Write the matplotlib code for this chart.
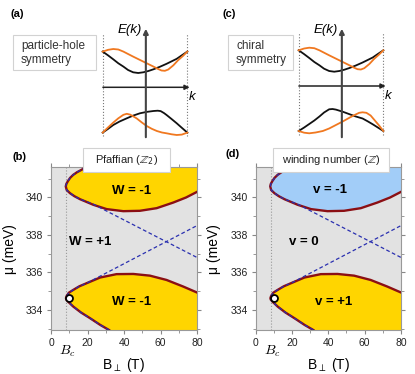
import numpy as np
import matplotlib.pyplot as plt
from matplotlib.patches import Rectangle

plt.rcParams['font.family'] = ['Liberation Sans', 'DejaVu Sans']
plt.rcParams['mathtext.fontset'] = 'dejavusans'

# ---- band sketches (k in units of zone edge, E in arbitrary units) ----
k_up_black = [-1, -0.875, -0.75, -0.63, -0.51, -0.4, -0.28, -0.16, -0.04, 0.08,
              0.2, 0.35, 0.51, 0.63, 0.75, 0.87, 1.0]
E_up_black = [35.7, 32, 28, 24, 20.7, 17.3, 15, 14.3, 15, 16.3,
              18, 20.5, 23.5, 26, 28.5, 32, 35.7]
k_up_orange = [-1, -0.87, -0.75, -0.63, -0.51, -0.4, -0.28, -0.16, -0.04, 0.08,
               0.2, 0.3, 0.39, 0.47, 0.55, 0.67, 0.78, 0.9, 1.0]
E_up_orange = [35.7, 37.5, 38.3, 37.8, 35.7, 33.3, 30.7, 28.2, 25.7, 23.2,
               20.7, 18.5, 16.8, 16.5, 17.8, 22, 27, 31.5, 35.7]

# particle-hole panel (a), lower bands
k_ph_black = [-1, -0.87, -0.75, -0.6, -0.43, -0.28, -0.12, 0.04, 0.2, 0.3,
              0.37, 0.45, 0.51, 0.63, 0.75, 0.87, 1.0]
E_ph_black = [-45.3, -41.5, -37.7, -34.2, -31, -28.3, -26, -24.6, -23.7, -23.4,
              -23.8, -25.8, -27.7, -31.8, -36, -40.5, -45.3]
k_ph_orange = [-1, -0.87, -0.75, -0.63, -0.51, -0.43, -0.35, -0.2, -0.08, 0.04,
               0.16, 0.28, 0.4, 0.51, 0.63, 0.75, 0.87, 1.0]
E_ph_orange = [-45.3, -40, -35.3, -31, -27.5, -26.5, -27.3, -31, -35, -38.7,
               -41.5, -43.7, -45.2, -46, -47, -47.7, -47.3, -45.3]

# chiral panel (c), lower bands
k_ch_black = [-1, -0.87, -0.75, -0.63, -0.51, -0.4, -0.28, -0.2, -0.12, 0.04,
              0.2, 0.35, 0.51, 0.63, 0.75, 0.87, 1.0]
E_ch_black = [-45, -41.5, -38, -34.5, -30.5, -26.5, -23.3, -23, -23.6, -25.7,
              -28.2, -30.5, -32.5, -35.3, -38.3, -41.5, -45]
k_ch_orange = [-1, -0.87, -0.75, -0.6, -0.43, -0.28, -0.12, 0.04, 0.2, 0.33,
               0.43, 0.51, 0.6, 0.7, 0.8, 0.9, 1.0]
E_ch_orange = [-45, -46.7, -47.3, -46.5, -45, -42.5, -39, -35.5, -31.7, -28.8,
               -26.8, -26.3, -26.8, -29.5, -34.5, -39.5, -45]

# ---- phase diagram boundaries (B in T, mu in meV) ----
upper_B = [19.0, 16.8, 14.3, 12.2, 10.5, 9.3, 8.4, 8.1, 8.6, 10.4, 12.8, 15.9,
           23.2, 30.5, 39.6, 48.7, 57.9, 67.0, 74.0, 80.0]
upper_mu = [341.62, 341.48, 341.35, 341.21, 341.05, 340.88, 340.72, 340.59,
            340.4, 340.23, 340.07, 339.91, 339.61, 339.38, 339.27, 339.29,
            339.43, 339.73, 340.0, 340.3]
lower_B = [31.8, 27.0, 21.4, 16.5, 12.2, 9.6, 8.4, 8.2, 8.6, 9.8, 12.2, 15.5,
           19.6, 26.9, 35.9, 45.1, 54.2, 63.3, 72.4, 80.0]
lower_mu = [332.93, 333.2, 333.56, 333.86, 334.18, 334.42, 334.55, 334.63,
            334.75, 334.92, 335.07, 335.26, 335.43, 335.73, 335.91, 335.92,
            335.83, 335.6, 335.25, 334.93]

# dashed gapless lines
dash_a_B = [19.0, 16.8, 14.3, 12.2, 10.5, 9.3, 8.4, 8.1, 8.6, 10.4, 12.8, 15.9, 23.2, 80]
dash_a_mu = [341.62, 341.48, 341.35, 341.21, 341.05, 340.88, 340.72, 340.59,
             340.4, 340.23, 340.07, 339.91, 339.64, 336.8]
dash_b_B = [31.8, 27.0, 21.4, 16.5, 12.2, 9.6, 8.4, 8.2, 8.6, 9.8, 12.2, 15.5, 19.6, 80]
dash_b_mu = [332.93, 333.2, 333.56, 333.86, 334.18, 334.42, 334.55, 334.63,
             334.75, 334.92, 335.07, 335.26, 335.43, 338.5]
Bc = 8.3
point_B, point_mu = 9.9, 334.66

labels_b = [('W = -1', 44.2, 340.32), ('W = +1', 21.4, 337.65), ('W = -1', 44.2, 334.41)]
labels_d = [('v = -1', 41.0, 340.41), ('v = 0', 26.3, 337.6), ('v = +1', 42.8, 334.41)]

W, H = 415, 374
fig = plt.figure(figsize=(W / 100, H / 100), dpi=100)


def px_rect(x0, y0, x1, y1):
    return [x0 / W, 1 - y1 / H, (x1 - x0) / W, (y1 - y0) / H]


def add_box(x0, y0, x1, y1):
    fig.add_artist(Rectangle((x0 / W, 1 - y1 / H), (x1 - x0) / W, (y1 - y0) / H,
                             transform=fig.transFigure, facecolor='white',
                             edgecolor='#d2d2d2', lw=0.8, zorder=5))


def draw_bands(x0, kaxis_y, kb, Eb, ko, Eo):
    ax = fig.add_axes(px_rect(x0 - 50, 25, x0 + 50, 140))
    ax.set_xlim(-50 / 42.33, 50 / 42.33)
    ax.set_ylim(kaxis_y - 140, kaxis_y - 25)
    ax.axis('off')
    for k in (-1, 1):
        ax.plot([k, k], [-49, 54], color='#777777', ls=':', lw=0.8)
    ax.plot(k_up_black, E_up_black, color='#111111', lw=1.3)
    ax.plot(k_up_orange, E_up_orange, color='#f07820', lw=1.3)
    ax.plot(kb, Eb, color='#111111', lw=1.3)
    ax.plot(ko, Eo, color='#f07820', lw=1.3)
    ax.annotate('', xy=(1.12, 0), xytext=(-1.06, 0),
                arrowprops=dict(arrowstyle='-|>', lw=1.1, color='#222222', mutation_scale=7))
    ax.annotate('', xy=(0.02, kaxis_y - 26), xytext=(0.02, kaxis_y - 140),
                arrowprops=dict(arrowstyle='-|>', lw=1.5, color='#444444', mutation_scale=7))
    ax.text(-0.08, kaxis_y - 30, 'E(k)', style='italic', fontsize=9.5, ha='right', va='center')
    ax.text(1.12, -10, 'k', style='italic', fontsize=9.5, ha='center', va='center')
    return ax


draw_bands(145, 87.3, k_ph_black, E_ph_black, k_ph_orange, E_ph_orange)
draw_bands(341, 86, k_ch_black, E_ch_black, k_ch_orange, E_ch_orange)

add_box(13, 35, 96, 70)
fig.text(21 / W, 1 - 53 / H, 'particle-hole\nsymmetry', fontsize=8.5, color='#333333',
         va='center', ha='left', linespacing=1.15, zorder=6)
add_box(228, 35, 293, 70)
fig.text(236 / W, 1 - 53 / H, 'chiral\nsymmetry', fontsize=8.5, color='#333333',
         va='center', ha='left', linespacing=1.15, zorder=6)


def draw_phase(x0, x1, up_color, low_color, labels):
    ax = fig.add_axes(px_rect(x0, 167.5, x1, 330))
    ymin, ymax = 332.93, 341.6
    ax.set_xlim(0, 80)
    ax.set_ylim(ymin, ymax)
    ax.set_facecolor('#e2e2e2')
    ax.axvline(Bc, color='#999999', ls=':', lw=0.8, zorder=1)
    ax.fill(upper_B + [80, 80, upper_B[0]], upper_mu + [upper_mu[-1], ymax + 1, ymax + 1],
            color=up_color, lw=0, zorder=2)
    ax.fill(lower_B + [80, 80, lower_B[0]], lower_mu + [lower_mu[-1], ymin - 1, ymin - 1],
            color=low_color, lw=0, zorder=2)
    ax.plot(upper_B, upper_mu, color='#8b0f14', lw=1.7, zorder=3)
    ax.plot(lower_B, lower_mu, color='#8b0f14', lw=1.7, zorder=3)
    for bs, ms in [(dash_a_B, dash_a_mu), (dash_b_B, dash_b_mu)]:
        ax.plot(bs, ms, color='#2a30b0', ls=(0, (3, 2)), lw=0.9, zorder=4)
    ax.plot(point_B, point_mu, 'o', mfc='white', mec='black', ms=5, mew=1.3, zorder=6)
    for txt, b, m in labels:
        ax.text(b, m, txt, fontsize=9.5, fontweight='bold', ha='center', va='center', zorder=5)
    ax.set_xticks([0, 20, 40, 60, 80])
    ax.set_xticks([10, 30, 50, 70], minor=True)
    ax.set_yticks([334, 336, 338, 340])
    ax.set_yticks([333, 335, 337, 339, 341], minor=True)
    ax.tick_params(which='both', direction='out', top=True, right=True,
                   color='#888888', labelsize=7.5, labelcolor='#222222', pad=2.5)
    ax.tick_params(which='major', length=3)
    ax.tick_params(which='minor', length=2)
    for s in ax.spines.values():
        s.set_color('#999999')
        s.set_linewidth(0.8)
    ax.set_xlabel(r'B$_\perp$ (T)', fontsize=10)
    ax.xaxis.set_label_coords(0.5, -0.16)
    ax.set_ylabel('μ (meV)', fontsize=10)
    ax.yaxis.set_label_coords(-0.235, 0.5)
    ax.text(Bc + 0.8, -0.13, r'$B_c$', transform=ax.get_xaxis_transform(), fontsize=10,
            ha='center', va='center', math_fontfamily='cm')
    return ax


draw_phase(51, 197, '#ffd500', '#ffd500', labels_b)
draw_phase(255.5, 401, '#a2cdf8', '#ffd500', labels_d)

add_box(83, 148, 170, 172)
fig.text(126.5 / W, 1 - 160 / H, r'Pfaffian ($\mathbb{Z}_2$)', fontsize=8, color='#222222',
         ha='center', va='center', zorder=6)
add_box(273, 148, 389, 172)
fig.text(331 / W, 1 - 160 / H, r'winding number ($\mathbb{Z}$)', fontsize=8, color='#222222',
         ha='center', va='center', zorder=6)

for txt, x, y in [('(a)', 10, 14), ('(c)', 222, 14), ('(b)', 12, 157), ('(d)', 225, 154)]:
    fig.text(x / W, 1 - y / H, txt, fontsize=8, fontweight='bold', ha='left', va='center')

fig.savefig('out.png', dpi=100)
